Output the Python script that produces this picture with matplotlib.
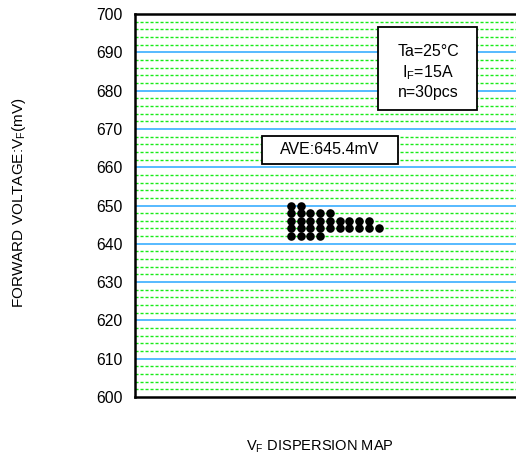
import numpy as np
import matplotlib
matplotlib.use("Agg")
import matplotlib.pyplot as plt
from matplotlib.patches import Rectangle

plt.rcParams['font.family'] = ['Liberation Sans', 'DejaVu Sans']
plt.rcParams['mathtext.fontset'] = 'custom'
plt.rcParams['mathtext.rm'] = 'Liberation Sans'

# Measured VF levels (mV) and how many parts fell on each level
vf_levels = [650, 648, 646, 644, 642]
vf_counts = [2, 5, 9, 10, 4]
y_ticks = [600, 610, 620, 630, 640, 650, 660, 670, 680, 690, 700]
cond_lines = ['Ta=25°C', r'I$_\mathregular{F}$=15A', 'n=30pcs']

# expand to single readings
readings = np.repeat(vf_levels, vf_counts)
ave = readings.mean()

fig = plt.figure(figsize=(5.16, 4.61), dpi=100)
ax = fig.add_axes([135/516, 64/461, 381/516, 383/461])

# horizontal grid: green dashed every 2mV, blue solid every 10mV
for v in np.arange(602, 700, 2):
    if v % 10 == 0:
        ax.axhline(v, color='#3aaeff', lw=1.2, zorder=1, snap=True)
    else:
        ax.axhline(v, color='#19ec19', lw=1.0, ls=(0, (2.2, 1.4)), zorder=1, snap=True)

# dot histogram, each level filled from the left
for lev, cnt in zip(vf_levels, vf_counts):
    xs = np.arange(cnt)
    ax.scatter(xs, np.full(cnt, lev), s=38, color='black', zorder=3, linewidths=0)

ax.set_xlim(-16, 23.1)
ax.set_ylim(600, 700)
ax.set_yticks(y_ticks)
ax.set_yticklabels([str(t) for t in y_ticks], fontsize=11.3)
ax.set_xticks([])
ax.tick_params(axis='y', length=0, pad=9)
ax.spines['right'].set_visible(False)
for s in ['left', 'top', 'bottom']:
    ax.spines[s].set_linewidth(1.8)

# AVE box
fig.patches.append(Rectangle((262/516, 297/461), 136/516, 28/461, transform=fig.transFigure,
                             facecolor='white', edgecolor='black', lw=1.3, zorder=5))
fig.text(330/516, 311/461, 'AVE:%.1fmV' % ave, ha='center', va='center', fontsize=11.5, zorder=6)

# condition box
fig.patches.append(Rectangle((378/516, 351/461), 99/516, 83/461, transform=fig.transFigure,
                             facecolor='white', edgecolor='black', lw=1.3, zorder=5))
for i, line in enumerate(cond_lines):
    fig.text(428/516, (461 - 52 - 20.5*i)/461, line, ha='center', va='center', fontsize=11.5, zorder=6)

fig.text(19/516, (461-203)/461, r'FORWARD VOLTAGE:V$_\mathregular{F}$(mV)', rotation=90,
         ha='center', va='center', fontsize=11)
fig.text(320/516, (461-447)/461, r'V$_\mathregular{F}$ DISPERSION MAP', ha='center', va='center', fontsize=10.5)

fig.savefig('out.png', dpi=100)
